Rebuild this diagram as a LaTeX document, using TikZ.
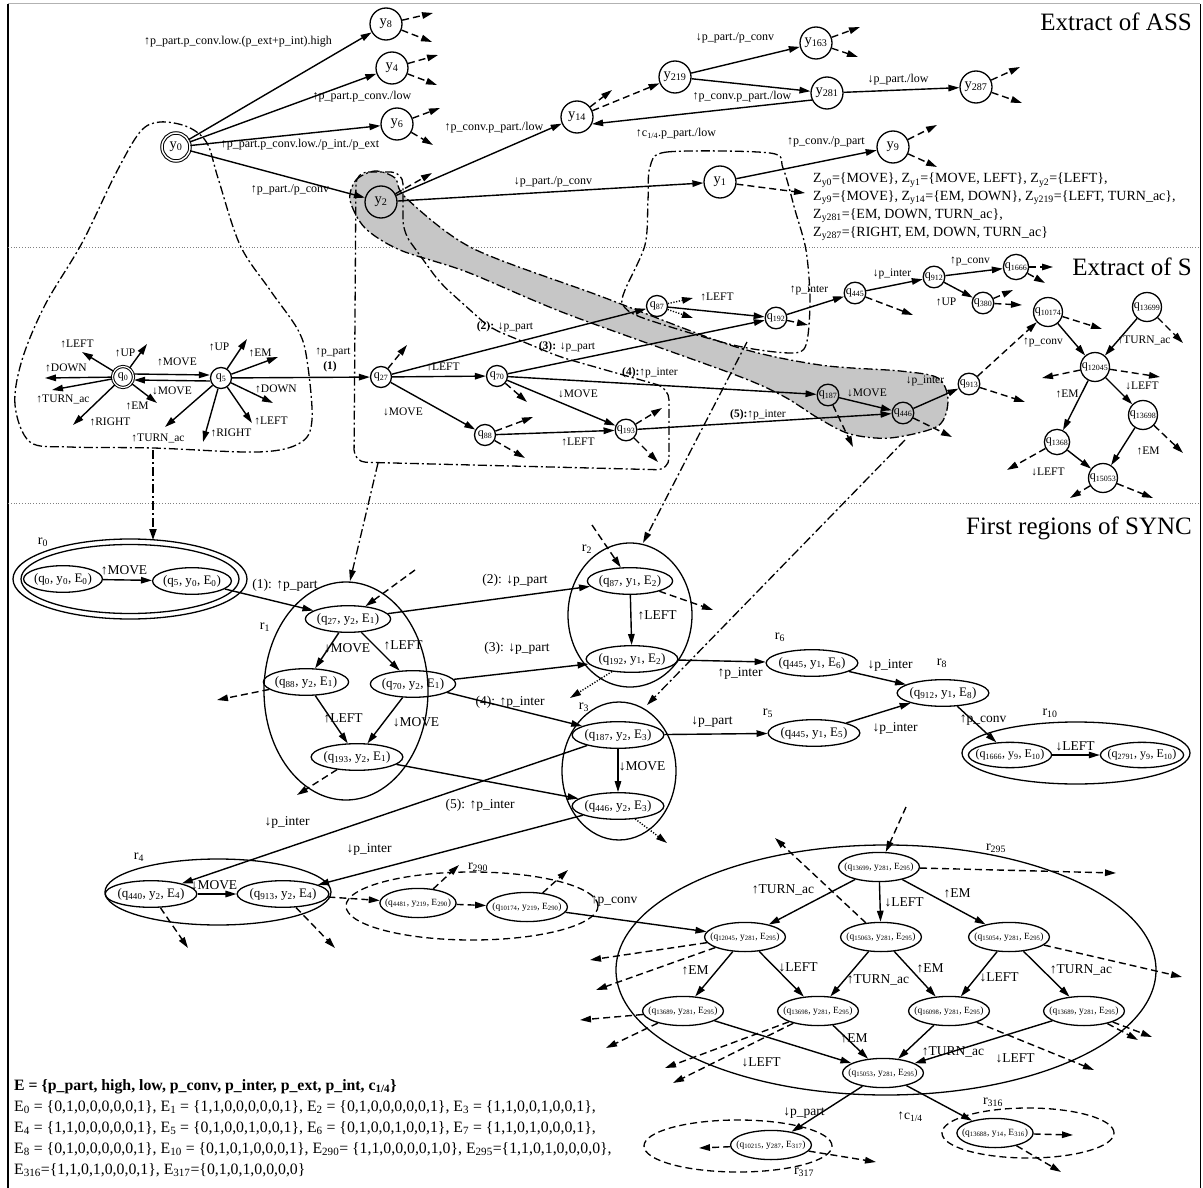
\documentclass[tikz,border=0pt]{standalone}
\usepackage{fontspec}
\setmainfont{Liberation Serif}
\usetikzlibrary{arrows.meta,shapes.geometric}
\begin{document}
\begin{tikzpicture}[x=1pt,y=-1pt,line cap=butt,
 ed/.style={line width=1.4pt,-{Triangle[length=11pt,width=6.5pt]}},
 stub/.style={ed,dash pattern=on 7pt off 4pt},
 dotstub/.style={ed,dash pattern=on 1.2pt off 1.6pt},
 dashdot/.style={line width=1.3pt,dash pattern=on 9pt off 3pt on 2pt off 3pt},
 ynode/.style={circle,draw,line width=1.3pt,minimum size=32pt,inner sep=1pt,font=\fontsize{14.5}{14.5}\selectfont},
 qnode/.style={circle,draw,line width=1.3pt,minimum size=21pt,inner sep=0.5pt,font=\fontsize{12}{12}\selectfont},
 sn/.style={ellipse,draw,line width=1.3pt,inner xsep=-1pt,inner ysep=3.5pt,font=\fontsize{13}{13}\selectfont},
 tn/.style={ellipse,draw,line width=1.3pt,inner xsep=-6pt,inner ysep=6pt,font=\fontsize{9.5}{9.5}\selectfont},
 reg/.style={ellipse,draw,line width=1.3pt,inner sep=0pt},
 dreg/.style={reg,dash pattern=on 7pt off 4pt},
 lbl/.style={font=\fontsize{12}{12}\selectfont,inner sep=0.5pt},
 slbl/.style={font=\fontsize{11.5}{11.5}\selectfont,inner sep=0.5pt},
 clbl/.style={font=\fontsize{13.5}{13.5}\selectfont,inner sep=0.5pt},
 rlbl/.style={font=\fontsize{14}{14}\selectfont,inner sep=0.5pt},
 ttl/.style={font=\fontsize{25}{25}\selectfont,anchor=east,inner sep=0pt}]
\useasboundingbox (0,0) rectangle (1203,1188);
% frame
\draw[gray!60,line width=1pt] (8,4) -- (1200,4);
\draw[line width=2.2pt] (8,4) -- (8,1188);
\draw[line width=1pt] (1200,4) -- (1200,1188);
\draw[gray,dotted,line width=0.8pt] (8,247) -- (1200,247);
\draw[gray,dotted,line width=0.8pt] (8,503) -- (1200,503);
\node[ttl] (t1) at (1192,22) {Extract of ASS};
\node[ttl] (t2) at (1192,267) {Extract of S};
\node[ttl] (t3) at (1192,528) {First regions of SYNC};

% grey band
\draw[dashdot,fill=gray!45] plot[smooth cycle,tension=0.5] coordinates {(350,200) (356,180) (375,171) (395,178) (406,198) (472,248) (600,296) (733,346) (820,365) (900,371) (938,378) (948,400) (938,426) (890,438) (850,434) (818,418) (783,396) (733,374) (567,314) (467,272) (400,250) (365,228)};
% region shapes
\draw[dashdot] plot[smooth cycle,tension=0.55] coordinates {(30,442) (15,405) (22,360) (45,305) (82,243) (115,175) (140,132) (160,122) (188,127) (207,143) (218,178) (240,245) (270,290) (298,330) (307,360) (312,420) (300,443) (258,452) (153,448) (70,447)};
\draw[dashdot,rounded corners=12pt] (356,172) -- (403,172) -- (403,232) -- (440,283) -- (490,328) -- (560,357) -- (669,388) -- (669,470) -- (354,462) -- cycle;
\draw[dashdot] plot[smooth cycle,tension=0.5] coordinates {(650,167) (667,152) (770,153) (783,168) (795,210) (806,250) (810,300) (806,345) (790,353) (733,345) (643,318) (623,305) (625,290) (645,245) (648,200)};
\coordinate (cA) at (153,450); \coordinate (cA2) at (153,540);
\coordinate (cB) at (378,463); \coordinate (cB2) at (350,581);
\coordinate (cC) at (747,342); \coordinate (cC2) at (643,543);
\coordinate (cD) at (905,440); \coordinate (cD2) at (647,705);
\draw[dashdot,line width=2pt,-{Triangle[length=11pt,width=7pt]}] (cA) -- (cA2);
\draw[dashdot,-{Triangle[length=11pt,width=6.5pt]}] (cB) -- (cB2);
\draw[dashdot,-{Triangle[length=11pt,width=6.5pt]}] (cC) -- (cC2);
\draw[dashdot,-{Triangle[length=11pt,width=6.5pt]}] (cD) -- (cD2);

% ===== ASS =====
\node[ynode,double,double distance=1.5pt,line width=1pt,minimum size=28pt] (y0) at (176,147) {y\textsubscript{0}};
\node[ynode] (y8) at (386,24) {y\textsubscript{8}};
\node[ynode] (y4) at (392,68) {y\textsubscript{4}};
\node[ynode] (y6) at (397,124) {y\textsubscript{6}};
\node[ynode] (y2) at (381,202) {y\textsubscript{2}};
\node[ynode] (y14) at (577,117) {y\textsubscript{14}};
\node[ynode] (y219) at (675,77) {y\textsubscript{219}};
\node[ynode] (y163) at (816,43) {y\textsubscript{163}};
\node[ynode] (y281) at (827,93) {y\textsubscript{281}};
\node[ynode] (y287) at (976,87) {y\textsubscript{287}};
\node[ynode] (y1) at (720,182) {y\textsubscript{1}};
\node[ynode] (y9) at (893,147) {y\textsubscript{9}};
\draw[ed] (y0) -- (y8); \draw[ed] (y0) -- (y4); \draw[ed] (y0) -- (y6); \draw[ed] (y0) -- (y2);
\draw[ed] (y2) -- (y14); \draw[ed] (y2) -- (y1);
\draw[stub] (y14) -- (y219); \draw[stub] (y14) -- (612,90);
\draw[ed] (y219) -- (y163); \draw[ed] (y219) -- (y281); \draw[ed] (y281.205) -- (y14.-25);
\draw[ed] (y281) -- (y287); \draw[ed] (y1) -- (y9);
\draw[stub] (y8) -- (433,13); \draw[stub] (y8) -- (432,42);
\draw[stub] (y4) -- (438,55); \draw[stub] (y4) -- (437,85);
\draw[stub] (y6) -- (440,108); \draw[stub] (y6) -- (433,145);
\draw[stub] (y2) -- (432,173);
\draw[stub] (y163) -- (860,27); \draw[stub] (y163) -- (858,57);
\draw[stub] (y287) -- (1020,67); \draw[stub] (y287) -- (1022,103);
\draw[stub] (y9) -- (937,125); \draw[stub] (y9) -- (937,167);
\draw[stub] (y1) -- (805,193);
\node[lbl] (a1) at (238,42) {↑p\_part.p\_conv.low.(p\_ext+p\_int).high};
\node[lbl] (a2) at (362,97) {↑p\_part.p\_conv./low};
\node[lbl] (a3) at (300,145) {↑p\_part.p\_conv.low./p\_int./p\_ext};
\node[lbl] (a4) at (290,190) {↑p\_part./p\_conv};
\node[lbl] (a5) at (494,128) {↑p\_conv.p\_part./low};
\node[lbl] (a6) at (553,182) {↓p\_part./p\_conv};
\node[lbl] (a7) at (735,38) {↓p\_part./p\_conv};
\node[lbl] (a8) at (742,97) {↑p\_conv.p\_part./low};
\node[lbl] (a9) at (676,134) {↑c\textsubscript{1/4}.p\_part./low};
\node[lbl] (a10) at (898,80) {↓p\_part./low};
\node[lbl] (a11) at (826,142) {↑p\_conv./p\_part};
\node[anchor=north west,align=left,inner sep=0pt,font=\fontsize{14}{17.7}\selectfont] (zt) at (813,173) {Z\textsubscript{y0}=\{MOVE\}, Z\textsubscript{y1}=\{MOVE, LEFT\}, Z\textsubscript{y2}=\{LEFT\},\\
Z\textsubscript{y9}=\{MOVE\}, Z\textsubscript{y14}=\{EM, DOWN\}, Z\textsubscript{y219}=\{LEFT, TURN\_ac\},\\
Z\textsubscript{y281}=\{EM, DOWN, TURN\_ac\},\\
Z\textsubscript{y287}=\{RIGHT, EM, DOWN, TURN\_ac\}};

% ===== S =====
\node[qnode,double,double distance=1.2pt,line width=1pt] (q0) at (123,377) {q\textsubscript{0}};
\node[qnode] (q5) at (221,378) {q\textsubscript{5}};
\node[qnode] (q27) at (381,377) {q\textsubscript{27}};
\node[qnode] (q70) at (497,376) {q\textsubscript{70}};
\node[qnode] (q88) at (485,435) {q\textsubscript{88}};
\node[qnode] (q87) at (657,306) {q\textsubscript{87}};
\node[qnode] (q192) at (776,318) {q\textsubscript{192}};
\node[qnode] (q193) at (626,430) {q\textsubscript{193}};
\node[qnode] (q187) at (828,395) {q\textsubscript{187}};
\node[qnode] (q446) at (903,413) {q\textsubscript{446}};
\node[qnode] (q445) at (855,293) {q\textsubscript{445}};
\node[qnode] (q912) at (934,277) {q\textsubscript{912}};
\node[qnode] (q1666) at (1016,267) {q\textsubscript{1666}};
\node[qnode] (q380) at (983,303) {q\textsubscript{380}};
\node[qnode] (q913) at (969,384) {q\textsubscript{913}};
\node[qnode] (q10174) at (1048,312) {q\textsubscript{10174}};
\node[qnode] (q13699) at (1147,307) {q\textsubscript{13699}};
\node[qnode] (q12045) at (1095,367) {q\textsubscript{12045}};
\node[qnode] (q13698) at (1143,415) {q\textsubscript{13698}};
\node[qnode] (q1368) at (1057,442) {q\textsubscript{1368}};
\node[qnode] (q15053) at (1103,478) {q\textsubscript{15053}};
% q0 / q5 stars
\draw[ed] (q0) -- (82,352); \draw[ed] (q0) -- (147,344); \draw[ed] (q0) -- (45,378);
\draw[ed] (q0) -- (52,390); \draw[ed] (q0) -- (73,425); \draw[ed] (q0) -- (157,403);
\draw[ed] (q5) -- (247,339); \draw[ed] (q5) -- (278,357); \draw[ed] (q5) -- (273,403);
\draw[ed] (q5) -- (252,423); \draw[ed] (q5) -- (203,442); \draw[ed] (q5) -- (165,427);
\draw[ed] ([yshift=3pt]q0.east) -- ([yshift=3pt]q5.west);
\draw[ed] ([yshift=-3pt]q5.west) -- ([yshift=-3pt]q0.east);
\draw[ed] (q5) -- (q27);
\draw[ed] (q27) -- (q70); \draw[ed] (q27) -- (q88); \draw[ed] (q27) -- (q87);
\draw[stub] (q27) -- (407,345);
\draw[ed] (q70) -- (q192); \draw[ed] (q70) -- (q187); \draw[ed] (q70) -- (q193);
\draw[stub] (q70) -- (527,402);
\draw[ed] (q88) -- (q193); \draw[stub] (q88) -- (533,417); \draw[stub] (q88) -- (525,458);
\draw[ed] (q193) -- (q446); \draw[stub] (q193) -- (662,408); \draw[stub] (q193) -- (658,462);
\draw[ed] (q87) -- (q192); \draw[dotstub] (q87) -- (693,298); \draw[dotstub] (q87) -- (693,318);
\draw[stub] (q192) -- (808,325); \draw[ed] (q192) -- (q445);
\draw[ed] (q445) -- (q912); \draw[stub] (q445) -- (913,315);
\draw[ed] (q912) -- (q1666); \draw[ed] (q912) -- (q380);
\draw[stub] (q1666) -- (1053,267); \draw[stub] (q1666) -- (1045,283);
\draw[stub] (q380) -- (1013,290); \draw[stub] (q380) -- (1022,305);
\draw[ed] (q187) -- (q446); \draw[stub] (q187) -- (853,447);
\draw[ed] (q446) -- (q913); \draw[stub] (q446) -- (952,437);
\draw[stub] (q913) -- (q10174); \draw[stub] (q913) -- (1025,402);
\draw[ed] (q10174) -- (q12045); \draw[stub] (q10174) -- (1102,329);
\draw[ed] (q13699) -- (q12045); \draw[stub] (q13699) -- (1183,343);
\draw[stub] (q12045) -- (1042,378); \draw[stub] (q12045) -- (1160,377);
\draw[ed] (q12045) -- (q13698); \draw[ed] (q12045) -- (q1368);
\draw[ed] (q13698) -- (q15053); \draw[stub] (q13698) -- (1183,453);
\draw[ed] (q1368) -- (q15053); \draw[stub] (q1368) -- (1007,470);
\draw[stub] (q15053) -- (1070,498); \draw[stub] (q15053) -- (1153,498);
\node[slbl] (b1) at (77,344) {↑LEFT};
\node[slbl] (b2) at (125,353) {↑UP};
\node[slbl] (b3) at (66,368) {↑DOWN};
\node[slbl] (b4) at (63,399) {↑TURN\_ac};
\node[slbl] (b5) at (110,422) {↑RIGHT};
\node[slbl] (b6) at (137,406) {↑EM};
\node[slbl] (b7) at (177,362) {↑MOVE};
\node[slbl] (b8) at (172,391) {↓MOVE};
\node[slbl] (b9) at (219,347) {↑UP};
\node[slbl] (b10) at (260,353) {↑EM};
\node[slbl] (b11) at (276,389) {↑DOWN};
\node[slbl] (b12) at (271,421) {↑LEFT};
\node[slbl] (b13) at (231,433) {↑RIGHT};
\node[slbl] (b14) at (158,438) {↑TURN\_ac};
\node[slbl] (b15) at (333,352) {↑p\_part};
\node[slbl] (b16) at (330,367) {\textbf{(1)}};
\node[slbl] (b17) at (443,367) {↑LEFT};
\node[slbl] (b18) at (403,412) {↓MOVE};
\node[slbl] (b19) at (505,327) {\textbf{(2):} ↓p\_part};
\node[slbl] (b20) at (567,347) {\textbf{(3):} ↓p\_part};
\node[slbl] (b21) at (650,373) {\textbf{(4):}↑p\_inter};
\node[slbl] (b22) at (578,394) {↓MOVE};
\node[slbl] (b23) at (578,442) {↑LEFT};
\node[slbl] (b24) at (758,415) {\textbf{(5):}↑p\_inter};
\node[slbl] (b25) at (717,297) {↑LEFT};
\node[slbl] (b26) at (809,290) {↑p\_inter};
\node[slbl] (b27) at (892,274) {↓p\_inter};
\node[slbl] (b28) at (970,261) {↑p\_conv};
\node[slbl] (b29) at (946,302) {↑UP};
\node[slbl] (b30) at (867,393) {↓MOVE};
\node[slbl] (b31) at (925,381) {↓p\_inter};
\node[slbl] (b32) at (1043,342) {↑p\_conv};
\node[slbl] (b33) at (1144,340) {↑TURN\_ac};
\node[slbl] (b34) at (1142,386) {↓LEFT};
\node[slbl] (b35) at (1067,394) {↑EM};
\node[slbl] (b36) at (1148,451) {↑EM};
\node[slbl] (b37) at (1048,472) {↓LEFT};

% ===== SYNC =====
\node[reg,minimum width=234pt,minimum height=80pt] (r0) at (130,579) {};
\node[reg,minimum width=218pt,minimum height=69pt] (r0b) at (130,579) {};
\node[reg,minimum width=164pt,minimum height=218pt] (r1) at (346,691) {};
\node[reg,minimum width=124pt,minimum height=144pt] (r2) at (630,615) {};
\node[reg,minimum width=114pt,minimum height=138pt] (r3) at (619,771) {};
\node[reg,minimum width=226pt,minimum height=66pt] (r4) at (218,892) {};
\node[dreg,minimum width=252pt,minimum height=68pt] (r290) at (472,906) {};
\node[reg,minimum width=228pt,minimum height=62pt] (r10) at (1076,753) {};
\node[reg,minimum width=540pt,minimum height=250pt] (r295) at (886,970) {};
\node[dreg,minimum width=188pt,minimum height=52pt] (r317) at (738,1146) {};
\node[dreg,minimum width=172pt,minimum height=50pt] (r316) at (1028,1133) {};
\node[sn] (s0) at (63,579) {(q\textsubscript{0}, y\textsubscript{0}, E\textsubscript{0})};
\node[sn] (s5) at (192,581) {(q\textsubscript{5}, y\textsubscript{0}, E\textsubscript{0})};
\node[sn] (s27) at (348,619) {(q\textsubscript{27}, y\textsubscript{2}, E\textsubscript{1})};
\node[sn] (s88) at (306,682) {(q\textsubscript{88}, y\textsubscript{2}, E\textsubscript{1})};
\node[sn] (s70) at (413,684) {(q\textsubscript{70}, y\textsubscript{2}, E\textsubscript{1})};
\node[sn] (s193) at (357,757) {(q\textsubscript{193}, y\textsubscript{2}, E\textsubscript{1})};
\node[sn] (s87) at (630,581) {(q\textsubscript{87}, y\textsubscript{1}, E\textsubscript{2})};
\node[sn] (s192) at (632,659) {(q\textsubscript{192}, y\textsubscript{1}, E\textsubscript{2})};
\node[sn] (s187) at (618,735) {(q\textsubscript{187}, y\textsubscript{2}, E\textsubscript{3})};
\node[sn] (s446) at (618,806) {(q\textsubscript{446}, y\textsubscript{2}, E\textsubscript{3})};
\node[sn] (s445a) at (812,663) {(q\textsubscript{445}, y\textsubscript{1}, E\textsubscript{6})};
\node[sn] (s445b) at (814,733) {(q\textsubscript{445}, y\textsubscript{1}, E\textsubscript{5})};
\node[sn] (s912) at (943,693) {(q\textsubscript{912}, y\textsubscript{1}, E\textsubscript{8})};
\node[sn,inner xsep=-5pt,font=\fontsize{12}{12}\selectfont] (s1666) at (1010,755) {(q\textsubscript{1666}, y\textsubscript{9}, E\textsubscript{10})};
\node[sn,inner xsep=-5pt,font=\fontsize{12}{12}\selectfont] (s2791) at (1142,755) {(q\textsubscript{2791}, y\textsubscript{9}, E\textsubscript{10})};
\node[sn] (s440) at (151,894) {(q\textsubscript{440}, y\textsubscript{2}, E\textsubscript{4})};
\node[sn] (s913) at (283,894) {(q\textsubscript{913}, y\textsubscript{2}, E\textsubscript{4})};
\node[tn] (s4481) at (418,903) {(q\textsubscript{4481}, y\textsubscript{219}, E\textsubscript{290})};
\node[tn] (s10174) at (527,907) {(q\textsubscript{10174}, y\textsubscript{219}, E\textsubscript{290})};
\node[tn] (t13699) at (879,867) {(q\textsubscript{13699}, y\textsubscript{281}, E\textsubscript{295})};
\node[tn] (t12045) at (745,937) {(q\textsubscript{12045}, y\textsubscript{281}, E\textsubscript{295})};
\node[tn] (t15063) at (881,937) {(q\textsubscript{15063}, y\textsubscript{281}, E\textsubscript{295})};
\node[tn] (t15054) at (1009,937) {(q\textsubscript{15054}, y\textsubscript{281}, E\textsubscript{295})};
\node[tn] (t13689a) at (683,1011) {(q\textsubscript{13689}, y\textsubscript{281}, E\textsubscript{295})};
\node[tn] (t13698) at (818,1011) {(q\textsubscript{13698}, y\textsubscript{281}, E\textsubscript{295})};
\node[tn] (t16098) at (949,1011) {(q\textsubscript{16098}, y\textsubscript{281}, E\textsubscript{295})};
\node[tn] (t13689b) at (1084,1011) {(q\textsubscript{13689}, y\textsubscript{281}, E\textsubscript{295})};
\node[tn] (t15053) at (883,1073) {(q\textsubscript{15053}, y\textsubscript{281}, E\textsubscript{295})};
\node[tn] (t10215) at (771,1145) {(q\textsubscript{10215}, y\textsubscript{287}, E\textsubscript{317})};
\node[tn] (t13688) at (995,1133) {(q\textsubscript{13688}, y\textsubscript{14}, E\textsubscript{316})};
% region labels
\node[rlbl] (lr0) at (43,542) {r\textsubscript{0}};
\node[rlbl] (lr1) at (265,627) {r\textsubscript{1}};
\node[rlbl] (lr2) at (587,549) {r\textsubscript{2}};
\node[rlbl] (lr3) at (584,707) {r\textsubscript{3}};
\node[rlbl] (lr4) at (139,857) {r\textsubscript{4}};
\node[rlbl] (lr5) at (768,713) {r\textsubscript{5}};
\node[rlbl] (lr6) at (780,637) {r\textsubscript{6}};
\node[rlbl] (lr8) at (942,663) {r\textsubscript{8}};
\node[rlbl] (lr10) at (1050,713) {r\textsubscript{10}};
\node[rlbl] (lr290) at (478,867) {r\textsubscript{290}};
\node[rlbl] (lr295) at (996,848) {r\textsubscript{295}};
\node[rlbl] (lr316) at (993,1102) {r\textsubscript{316}};
\node[rlbl] (lr317) at (804,1172) {r\textsubscript{317}};
% SYNC edges
\draw[ed] (s0) -- (s5); \draw[ed] (s5) -- (s27);
\draw[ed] (s27) -- (s88); \draw[ed] (s27) -- (s70);
\draw[ed] (s88) -- (s193); \draw[ed] (s70) -- (s193);
\draw[ed] (s27) -- (s87); \draw[ed] (s70) -- (s192); \draw[ed] (s70) -- (s187); \draw[ed] (s193) -- (s446);
\draw[ed] (s87) -- (s192); \draw[ed] (s192) -- (s445a); \draw[ed] (s187) -- (s445b); \draw[ed] (s187) -- (s446);
\draw[ed] (s445a) -- (s912); \draw[ed] (s445b) -- (s912); \draw[ed] (s912) -- (s1666); \draw[ed] (s1666) -- (s2791);
\draw[ed] (s187) -- (s440); \draw[ed] (s446) -- (s913); \draw[ed] (s440) -- (s913);
\draw[stub] (s913) -- (s4481); \draw[stub] (s4481) -- (s10174); \draw[ed] (s10174) -- (t12045);
\draw[ed] (t13699) -- (t12045); \draw[ed] (t13699) -- (t15063); \draw[ed] (t13699) -- (t15054);
\draw[ed] (t12045) -- (t13689a); \draw[ed] (t12045) -- (t13698);
\draw[ed] (t15063) -- (t13698); \draw[ed] (t15063) -- (t16098);
\draw[ed] (t15054) -- (t16098); \draw[ed] (t15054) -- (t13689b);
\draw[ed] (t13689a) -- (t15053); \draw[ed] (t13698) -- (t15053); \draw[ed] (t16098) -- (t15053); \draw[ed] (t13689b) -- (t15053);
\draw[ed] (t15053) -- (t10215); \draw[ed] (t15053) -- (t13688);
% SYNC stubs
\draw[stub] (415,570) -- (s27); \draw[stub] (s88) -- (217,700); \draw[stub] (s193) -- (297,795);
\draw[stub] (592,525) -- (s87); \draw[stub] (s87) -- (713,610);
\draw[dotstub] (s192) -- (570,698); \draw[dotstub] (s446) -- (667,843);
\draw[stub] (s440) -- (188,948); \draw[stub] (s913) -- (335,948);
\draw[stub] (s4481) -- (459,865); \draw[stub] (s10174) -- (568,870);
\draw[stub] (906,807) -- (t13699); \draw[stub] (t13699) -- (1116,873);
\draw[stub] (t15063) -- (775,838);
\draw[stub] (t12045) -- (590,960); \draw[stub] (t12045) -- (596,990);
\draw[stub] (t15054) -- (1182,977);
\draw[stub] (t13689a) -- (580,1020); \draw[stub] (t13689a) -- (606,1048);
\draw[stub] (t13698) -- (665,1068); \draw[stub] (t13698) -- (673,1083);
\draw[stub] (t16098) -- (1094,1070);
\draw[stub] (t13689b) -- (1138,1040); \draw[stub] (t13689b) -- (1152,1037);
\draw[stub] (t10215) -- (699,1148); \draw[stub] (t10215) -- (876,1162);
\draw[stub] (t13688) -- (1073,1135); \draw[stub] (t13688) -- (1061,1172);
% SYNC labels
\node[clbl] (c1) at (124,570) {↑MOVE};
\node[clbl] (c2) at (285,585) {(1): ↑p\_part};
\node[clbl] (c3) at (347,648) {↓MOVE};
\node[clbl] (c4) at (403,645) {↑LEFT};
\node[clbl] (c5) at (343,718) {↑LEFT};
\node[clbl] (c6) at (416,722) {↓MOVE};
\node[clbl] (c7) at (515,580) {(2): ↓p\_part};
\node[clbl] (c8) at (517,648) {(3): ↓p\_part};
\node[clbl] (c9) at (510,702) {(4): ↑p\_inter};
\node[clbl] (c10) at (480,805) {(5): ↑p\_inter};
\node[clbl] (c11) at (657,615) {↑LEFT};
\node[clbl] (c12) at (740,673) {↑p\_inter};
\node[clbl] (c13) at (712,722) {↓p\_part};
\node[clbl] (c14) at (642,766) {↓MOVE};
\node[clbl] (c15) at (890,665) {↓p\_inter};
\node[clbl] (c16) at (895,728) {↓p\_inter};
\node[clbl] (c17) at (983,720) {↑p\_conv};
\node[clbl] (c18) at (1075,746) {↓LEFT};
\node[clbl] (c19) at (287,822) {↓p\_inter};
\node[clbl] (c20) at (369,849) {↓p\_inter};
\node[clbl] (c21) at (214,885) {↓MOVE};
\node[clbl] (c22) at (614,901) {↑p\_conv};
\node[clbl] (c23) at (783,890) {↑TURN\_ac};
\node[clbl] (c24) at (904,902) {↓LEFT};
\node[clbl] (c25) at (957,893) {↑EM};
\node[clbl] (c26) at (695,970) {↑EM};
\node[clbl] (c27) at (798,967) {↓LEFT};
\node[clbl] (c28) at (878,980) {↑TURN\_ac};
\node[clbl] (c29) at (930,968) {↑EM};
\node[clbl] (c30) at (999,977) {↓LEFT};
\node[clbl] (c31) at (1081,970) {↑TURN\_ac};
\node[clbl] (c32) at (761,1062) {↓LEFT};
\node[clbl] (c33) at (854,1038) {↑EM};
\node[clbl] (c34) at (953,1052) {↑TURN\_ac};
\node[clbl] (c35) at (1015,1058) {↓LEFT};
\node[clbl] (c36) at (804,1113) {↓p\_part};
\node[clbl] (c37) at (910,1117) {↑c\textsubscript{1/4}};
% E text
\node[anchor=north west,align=left,inner sep=0pt,font=\fontsize{15.8}{21}\selectfont] (et) at (14,1079) {\textbf{E = \{p\_part, high, low, p\_conv, p\_inter, p\_ext, p\_int, c\textsubscript{1/4}\}}\\
E\textsubscript{0} = \{0,1,0,0,0,0,0,1\}, E\textsubscript{1} = \{1,1,0,0,0,0,0,1\}, E\textsubscript{2} = \{0,1,0,0,0,0,0,1\}, E\textsubscript{3} = \{1,1,0,0,1,0,0,1\},\\
E\textsubscript{4} = \{1,1,0,0,0,0,0,1\}, E\textsubscript{5} = \{0,1,0,0,1,0,0,1\}, E\textsubscript{6} = \{0,1,0,0,1,0,0,1\}, E\textsubscript{7} = \{1,1,0,1,0,0,0,1\},\\
E\textsubscript{8} = \{0,1,0,0,0,0,0,1\}, E\textsubscript{10} = \{0,1,0,1,0,0,0,1\}, E\textsubscript{290}= \{1,1,0,0,0,0,1,0\}, E\textsubscript{295}=\{1,1,0,1,0,0,0,0\},\\
E\textsubscript{316}=\{1,1,0,1,0,0,0,1\}, E\textsubscript{317}=\{0,1,0,1,0,0,0,0\}};
\end{tikzpicture}
\end{document}
